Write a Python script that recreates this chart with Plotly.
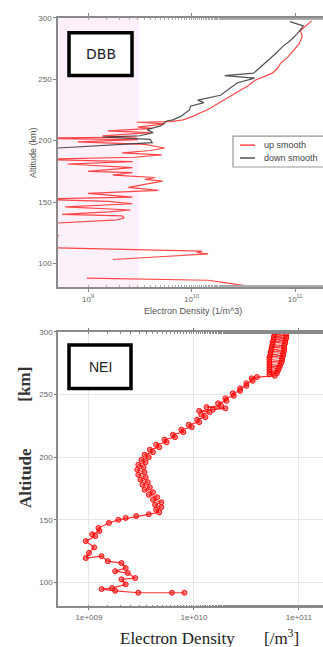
import plotly.graph_objects as go

# ---------------- DATA ----------------
# Top panel (DBB): altitude [km] and log10 electron density [1/m^3]
up_alt = [297.6, 289.5, 285, 279, 273, 268, 263, 259, 255, 249, 245, 241, 236, 232, 228, 225,
          222.6, 220, 217, 215.5, 215, 213.7, 211, 210, 208, 206.5, 204, 203, 202, 200.8, 199,
          197, 194, 192, 190, 188.5, 186.5, 184.7, 183, 181, 178, 175, 174, 172, 170, 168.5,
          167, 164.5, 162, 159.5, 157, 154, 152.4, 150.5, 148.6, 146, 143.5, 142, 140, 138.7,
          137, 135.5, 132, 125, 122.6, 121, 113, 110, 109, 107.7, 103.2, None, 88, 86.3, 84.5, 81.5]
up_logn = [11.16, 11.05, 11.07, 11.04, 10.98, 10.93, 10.86, 10.83, 10.78, 10.61, 10.55, 10.47,
           10.36, 10.28, 10.20, 10.15, 10.08, 10.02, 9.92, 9.80, 9.47, 9.74, 9.48, 9.62, 9.19,
           9.60, 9.14, 9.47, 8.50, 9.48, 8.90, 9.55, 9.74, 9.60, 9.33, 9.71, 9.45, 8.50, 9.43,
           8.80, 9.43, 9.00, 9.43, 9.24, 9.65, 9.55, 9.72, 9.55, 9.39, 9.68, 9.00, 9.43, 8.50,
           9.20, 9.43, 8.78, 9.41, 9.20, 8.75, 9.33, 9.35, 9.28, 8.50, 8.40, 8.72, 8.40, 8.50,
           10.10, 10.05, 10.16, 9.24, None, 8.99, 10.16, 10.30, 10.55]

down_alt = [297, 293.5, 290, 287, 282, 276.6, 270, 263, 258, 255, 253, 251, 247, 242, 237, 233,
            231, 228, 225, 222.6, 220, 217, 216, 212, 209, 206.5, 204, 203, 201, 198.4, 193]
down_logn = [10.95, 11.08, 11.05, 11.02, 10.96, 10.88, 10.80, 10.71, 10.64, 10.60, 10.32, 10.61,
             10.44, 10.36, 10.28, 10.06, 10.12, 9.99, 9.98, 9.94, 9.90, 9.82, 9.76, 9.70, 9.57,
             9.63, 9.50, 9.14, 9.60, 9.62, 8.50]

# Bottom panel (NEI): altitude [km] and log10 electron density [/m^3]
nei_alt = [300, 299, 298, 297, 296, 295, 294, 293, 292, 291, 290, 289, 288, 287, 286, 285, 284,
           283, 282, 281, 280, 279, 278, 277, 276, 275, 274, 273, 272, 271, 270, 269, 268, 267,
           266, 265,
           264, 263, 261, 259, 257, 255, 253, 251, 249, 247, 245, 243, 241, 240, 239, 238, 237,
           236, 234, 232, 230, 228, 226, 224, 222, 220, 218, 216, 214, 212, 210, 208, 206, 204,
           202, 200, 198, 196, 194, 192, 190, 188, 186, 184, 182, 180, 178, 176, 174, 172, 170,
           168, 166, 164, 162, 160, 158, 156,
           154.5, 153, 151.5, 150, 147.5, 143.5, 141, 138.5, 137, 133, 128, 123.5, 119.5, 121,
           117, 115.5, 111.5, 109, 107.5, 103.5, 102.5, 98.5, 95.5, 94.7, 93.3, 91.8, 91.8, 91.8]
nei_logn = [10.76, 10.88, 10.77, 10.88, 10.76, 10.88, 10.76, 10.87, 10.75, 10.87, 10.75, 10.86,
            10.74, 10.86, 10.74, 10.86, 10.73, 10.85, 10.73, 10.85, 10.72, 10.84, 10.72, 10.84,
            10.72, 10.83, 10.72, 10.82, 10.72, 10.81, 10.72, 10.80, 10.72, 10.79, 10.72, 10.77,
            10.60, 10.55, 10.56, 10.50, 10.50, 10.44, 10.44, 10.37, 10.38, 10.30, 10.31, 10.23,
            10.26, 10.12, 10.30, 10.18, 10.05, 10.15, 10.07, 10.11, 10.03, 10.05, 9.95, 9.98,
            9.88, 9.90, 9.80, 9.82, 9.72, 9.74, 9.64, 9.67, 9.58, 9.61, 9.53, 9.57, 9.50, 9.54,
            9.47, 9.52, 9.46, 9.53, 9.47, 9.54, 9.49, 9.56, 9.51, 9.58, 9.53, 9.61, 9.57, 9.65,
            9.61, 9.69, 9.63, 9.69, 9.64, 9.67,
            9.57, 9.45, 9.35, 9.28, 9.19, 9.09, 9.10, 9.03, 9.06, 8.97, 9.05, 9.00, 8.97, 9.12,
            9.18, 9.31, 9.35, 9.25, 9.37, 9.44, 9.31, 9.35, 9.22, 9.12, 9.25, 9.47, 9.79, 9.91]

top_tickvals = [1e9, 1e10, 1e11]
top_ticktext = ["10<sup>9</sup>", "10<sup>10</sup>", "10<sup>11</sup>"]
bot_ticktext = ["1e+009", "1e+010", "1e+011"]
alt_ticks = [100, 150, 200, 250, 300]
legend_names = ["up smooth", "down smooth"]
legend_colors = ["rgba(255,40,40,0.85)", "rgba(50,50,50,0.85)"]

# ---------------- FIGURE ----------------
def to_n(v):
    return [None if x is None else 10 ** x for x in v]

fig = go.Figure()
fig.add_trace(go.Scatter(x=to_n(up_logn), y=up_alt, mode="lines", name=legend_names[0],
                         line=dict(color=legend_colors[0], width=1.2),
                         xaxis="x", yaxis="y", connectgaps=False, showlegend=False))
fig.add_trace(go.Scatter(x=to_n(down_logn), y=down_alt, mode="lines", name=legend_names[1],
                         line=dict(color=legend_colors[1], width=1.2),
                         xaxis="x", yaxis="y", showlegend=False))
fig.add_trace(go.Scatter(x=to_n(nei_logn), y=nei_alt, mode="lines+markers", showlegend=False,
                         line=dict(color="rgba(255,0,0,0.8)", width=1.2),
                         marker=dict(symbol="circle", size=5, color="rgba(255,30,30,0.55)",
                                     line=dict(color="rgba(255,0,0,0.9)", width=1)),
                         xaxis="x2", yaxis="y2"))

W, H = 323, 647
def px(x):
    return x / W
def py(y):
    return 1 - y / H

axis_common = dict(showline=True, linecolor="#8a8a8a", linewidth=1.5,
                   tickfont=dict(family="Liberation Sans", size=8, color="#666"))

fig.update_layout(
    width=W, height=H, margin=dict(l=0, r=0, t=0, b=0),
    paper_bgcolor="white", plot_bgcolor="white", showlegend=False,
    xaxis=dict(type="log", range=[8.71, 11.27], domain=[px(58), 1.0], anchor="y",
               tickvals=top_tickvals, ticktext=top_ticktext, ticks="outside", ticklen=3,
               tickcolor="#888", mirror="ticks", showgrid=False, zeroline=False,
               minor=dict(ticks="inside", ticklen=2, tickcolor="#aaa", showgrid=False),
               **axis_common),
    yaxis=dict(range=[80.6, 300], domain=[py(285), py(14)], anchor="x",
               tickvals=alt_ticks, ticks="outside", ticklen=3, tickcolor="#888",
               showgrid=False, zeroline=False, **axis_common),
    xaxis2=dict(type="log", range=[8.705, 11.23], domain=[px(58), 1.0], anchor="y2",
                tickvals=top_tickvals, ticktext=bot_ticktext, ticks="outside", ticklen=2,
                tickcolor="#777", mirror="ticks", showgrid=True, gridcolor="#e6e6e6",
                zeroline=False,
                minor=dict(ticks="inside", ticklen=2, tickcolor="#888", showgrid=False),
                **axis_common),
    yaxis2=dict(range=[81, 300], domain=[py(606), py(330)], anchor="x2",
                tickvals=alt_ticks, ticks="outside", ticklen=2, tickcolor="#777",
                showgrid=True, gridcolor="#e6e6e6", zeroline=False, **axis_common),
)

shapes = [
    # pink shaded band in top panel
    dict(type="rect", xref="paper", yref="paper", x0=px(58), x1=px(139), y0=py(285), y1=py(14),
         fillcolor="#fcf0fb", line=dict(width=0), layer="below"),
    # DBB label box
    dict(type="rect", xref="paper", yref="paper", x0=px(69), x1=px(132), y0=py(72), y1=py(29),
         fillcolor="white", line=dict(color="black", width=3.5)),
    # NEI label box
    dict(type="rect", xref="paper", yref="paper", x0=px(69), x1=px(131), y0=py(387), y1=py(343),
         fillcolor="white", line=dict(color="black", width=3.5)),
    # legend box (cut by the right edge as in the reference)
    dict(type="rect", xref="paper", yref="paper", x0=px(233), x1=px(345), y0=py(164), y1=py(133),
         fillcolor="white", line=dict(color="#999", width=1.2)),
]
legend_rows = [142, 155]
for name, col, yy in zip(legend_names, legend_colors, legend_rows):
    shapes.append(dict(type="line", xref="paper", yref="paper", x0=px(240), x1=px(255),
                       y0=py(yy), y1=py(yy), line=dict(color=col, width=1.5)))
fig.update_layout(shapes=shapes)

ann = [
    dict(text="DBB", x=px(100.5), y=py(50.5), font=dict(family="DejaVu Sans", size=14, color="#222")),
    dict(text="NEI", x=px(100), y=py(365), font=dict(family="Liberation Sans Narrow, Liberation Sans", size=14, color="#222")),
    dict(text="Electron Density (1/m^3)", x=px(193), y=py(309),
         font=dict(family="Liberation Sans", size=9, color="#555")),
    dict(text="Altitude (km)", x=px(33), y=py(150), textangle=-90,
         font=dict(family="Liberation Sans", size=9, color="#555")),
    dict(text="Electron Density", x=px(177), y=py(638),
         font=dict(family="Liberation Serif", size=17, color="#222")),
    dict(text="[/m<sup>3</sup>]", x=px(281), y=py(637),
         font=dict(family="Liberation Serif", size=17, color="#222")),
    dict(text="<b>Altitude</b>", x=px(25), y=py(477), textangle=-90,
         font=dict(family="Liberation Serif", size=17, color="#333")),
    dict(text="<b>[km]</b>", x=px(25), y=py(383), textangle=-90,
         font=dict(family="Liberation Serif", size=17, color="#333")),
]
for a in ann:
    a.update(xanchor="center")
for name, yy in zip(legend_names, legend_rows):
    ann.append(dict(text=name, x=px(262), y=py(yy), xanchor="left",
                    font=dict(family="Liberation Sans", size=9, color="#444")))
for a in ann:
    a.update(xref="paper", yref="paper", showarrow=False, yanchor="middle")
fig.update_layout(annotations=ann)

fig.write_html("out.html")
